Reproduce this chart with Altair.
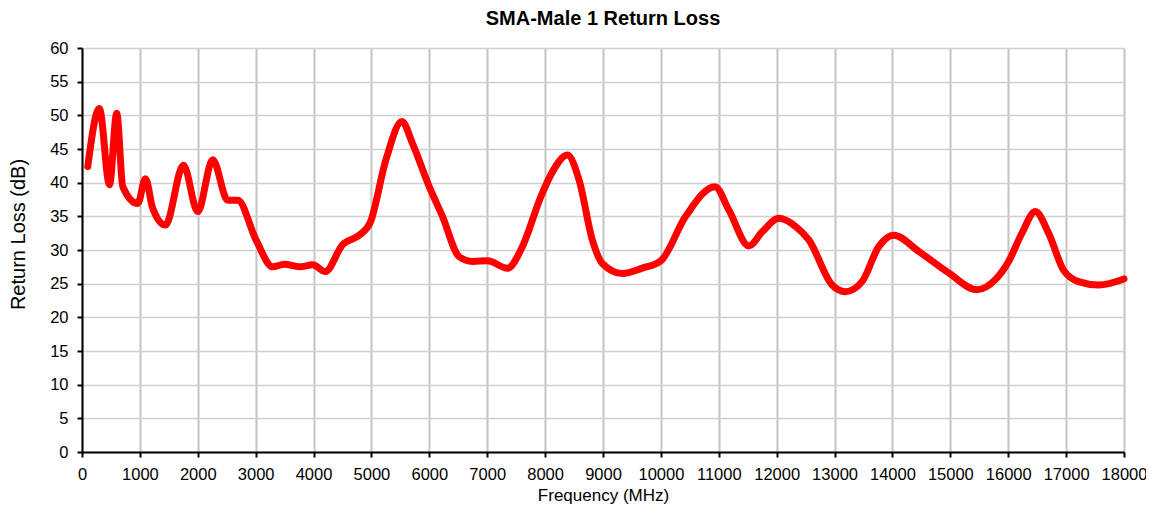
import altair as alt
import pandas as pd

freq = [100, 300, 475, 600, 705, 963, 1096, 1222, 1441, 1752, 1999, 2258, 2517, 2690,
        3006, 3294, 3495, 3754, 3984, 4203, 4502, 4790, 4980, 5250, 5526, 5710, 5998,
        6227, 6515, 6745, 7004, 7349, 7608, 7925, 8126, 8385, 8587, 8816, 8989, 9334,
        9679, 10000, 10428, 10934, 11176, 11521, 11750, 12038, 12326, 12556, 12958,
        13188, 13475, 13763, 14022, 14453, 14971, 15460, 15777, 16007, 16237, 16467,
        16697, 16956, 17214, 17560, 18000]
rl = [42.4, 51.0, 39.7, 50.3, 39.4, 36.9, 40.6, 36.2, 33.7, 42.6, 35.7, 43.4, 37.4, 37.4,
      31.5, 27.5, 27.9, 27.5, 27.8, 26.8, 30.8, 32.2, 34.1, 43.4, 49.1, 45.8, 39.4,
      35.0, 29.0, 28.3, 28.4, 27.3, 30.5, 37.9, 41.6, 44.1, 40.4, 31.5, 28.0, 26.5,
      27.3, 28.4, 35.0, 39.4, 35.9, 30.6, 32.7, 34.7, 33.5, 31.5, 24.8,
      23.8, 25.3, 30.5, 32.2, 29.8, 26.6, 24.1, 25.6, 28.3, 32.5, 35.7,
      32.5, 27.0, 25.3, 24.8, 25.7]

df = pd.DataFrame({"Frequency": freq, "RL": rl})

FONT = "Liberation Sans"

common = dict(labelFont=FONT, titleFont=FONT, labelFontSize=16.5,
              labelColor="#000000", titleColor="#000000", titleFontWeight="normal",
              domainColor="#000000", domainWidth=2, tickColor="#000000", tickWidth=2,
              tickSize=5, labelOverlap=False, labelFlush=False)

chart = alt.Chart(df).mark_line(
    color="#ff0000", strokeWidth=7, interpolate="monotone", strokeCap="round", strokeJoin="round"
).encode(
    x=alt.X("Frequency:Q", title="Frequency (MHz)",
            scale=alt.Scale(domain=[0, 18000], nice=False, zero=False),
            axis=alt.Axis(values=list(range(0, 18001, 1000)), format="d",
                          gridColor="#c4c4c4", gridWidth=2, titleFontSize=17,
                          labelPadding=9, titlePadding=5, **common)),
    y=alt.Y("RL:Q", title="Return Loss (dB)",
            scale=alt.Scale(domain=[0, 60], nice=False),
            axis=alt.Axis(values=list(range(0, 61, 5)),
                          gridColor="#d0d0d0", gridWidth=1.5, titleFontSize=20,
                          titleY=186,
                          labelPadding=9, titlePadding=21, **common)),
).properties(
    width=1042, height=404,
    title=alt.TitleParams("SMA-Male 1 Return Loss", font=FONT, fontSize=20,
                          fontWeight="bold", color="#000000", offset=11, anchor="middle"),
    autosize=alt.AutoSizeParams(type="none"),
    padding={"left": 74, "top": 40, "right": 22, "bottom": 54},
).configure_view(
    stroke="#000000", strokeWidth=2
).configure(background="white")

chart.save("out.html", embed_options={"renderer": "svg", "actions": False})
